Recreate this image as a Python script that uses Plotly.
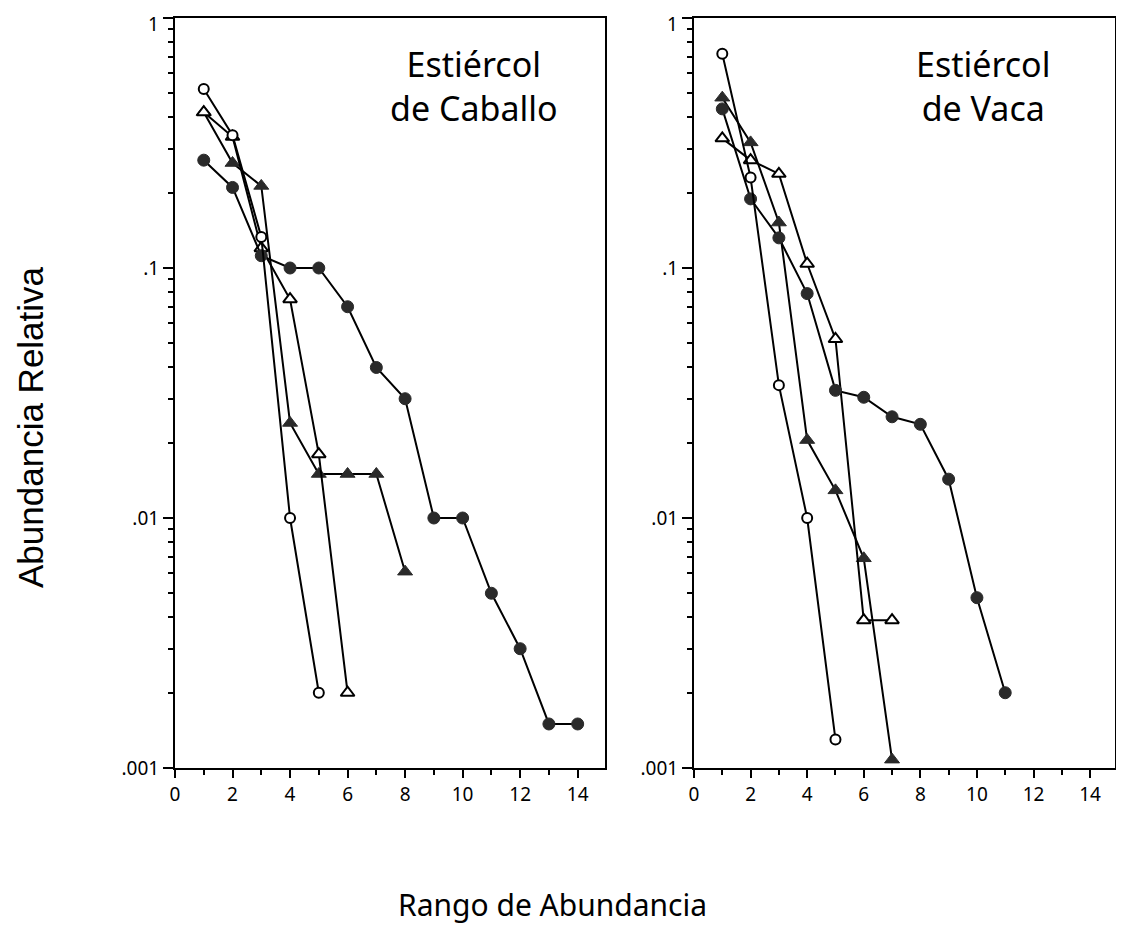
import plotly.graph_objects as go

# ---- data ----
left_fc_rank = [1, 2, 3, 4, 5, 6, 7, 8, 9, 10, 11, 12, 13, 14]
left_fc = [0.27, 0.21, 0.112, 0.10, 0.10, 0.070, 0.040, 0.030, 0.010, 0.010, 0.0050, 0.0030, 0.0015, 0.0015]
left_oc_rank = [1, 2, 3, 4, 5]
left_oc = [0.52, 0.34, 0.133, 0.010, 0.0020]
left_ot_rank = [1, 2, 3, 4, 5, 6]
left_ot = [0.42, 0.335, 0.12, 0.075, 0.018, 0.0020]
left_ft_rank = [1, 2, 3, 4, 5, 6, 7, 8]
left_ft = [0.42, 0.263, 0.213, 0.024, 0.015, 0.015, 0.015, 0.0061]

right_fc_rank = [1, 2, 3, 4, 5, 6, 7, 8, 9, 10, 11]
right_fc = [0.433, 0.189, 0.132, 0.079, 0.0324, 0.0304, 0.0254, 0.0237, 0.0143, 0.0048, 0.0020]
right_oc_rank = [1, 2, 3, 4, 5]
right_oc = [0.72, 0.23, 0.034, 0.010, 0.0013]
right_ot_rank = [1, 2, 3, 4, 5, 6, 7]
right_ot = [0.33, 0.27, 0.238, 0.104, 0.052, 0.0039, 0.0039]
right_ft_rank = [1, 2, 3, 4, 5, 6, 7]
right_ft = [0.48, 0.318, 0.152, 0.0205, 0.0129, 0.0069, 0.00108]

x_major = [0, 2, 4, 6, 8, 10, 12, 14]
y_major = [0.001, 0.01, 0.1, 1]
y_major_text = [".001", ".01", ".1", ""]   # the top "1" is placed below as its own label
y_top_text = "1"
y_minor = [m * 10 ** e for e in (-3, -2, -1) for m in range(2, 10)]

panel_titles = ["Estiércol<br>de Caballo", "Estiércol<br>de Vaca"]
x_title = "Rango de Abundancia"
y_title = "Abundancia Relativa"

DARK = "#2a2a2a"
FONT = "Noto Sans"

fig = go.Figure()

def add_series(xs, ys, kind, xa, ya):
    if kind == "fc":
        marker = dict(symbol="circle", size=12, color=DARK, line=dict(color=DARK, width=1))
    elif kind == "oc":
        marker = dict(symbol="circle", size=10, color="white", line=dict(color="black", width=2))
    elif kind == "ft":
        marker = dict(symbol="triangle-up", size=13, color=DARK, line=dict(color=DARK, width=1))
    else:
        marker = dict(symbol="triangle-up", size=12, color="white", line=dict(color="black", width=2))
    fig.add_trace(go.Scatter(x=xs, y=ys, mode="lines+markers", xaxis=xa, yaxis=ya,
                             line=dict(color="black", width=2), marker=marker,
                             showlegend=False, cliponaxis=False))

add_series(left_ft_rank, left_ft, "ft", "x", "y")
add_series(left_ot_rank, left_ot, "ot", "x", "y")
add_series(left_fc_rank, left_fc, "fc", "x", "y")
add_series(left_oc_rank, left_oc, "oc", "x", "y")

add_series(right_ft_rank, right_ft, "ft", "x2", "y2")
add_series(right_ot_rank, right_ot, "ot", "x2", "y2")
add_series(right_fc_rank, right_fc, "fc", "x2", "y2")
add_series(right_oc_rank, right_oc, "oc", "x2", "y2")

# page has an 8px body margin: figure occupies page pixels 8..1116 x 8..933
OFF = 8
W, H = 1124 - 2 * OFF, 941 - 2 * OFF

def px_x(p):
    return (p - OFF) / W

def px_y(p):
    return 1 - (p - OFF) / H

def xax(dom, anchor, xmax):
    return dict(domain=dom, anchor=anchor, range=[0, xmax], showgrid=False, zeroline=False,
                showline=True, linecolor="black", linewidth=2, mirror=True,
                tickmode="array", tickvals=x_major, ticks="outside", ticklen=8, tickwidth=2,
                tickcolor="black", automargin=False, ticklabeloverflow="allow",
                minor=dict(dtick=1, tick0=0, ticks="outside", ticklen=5, tickwidth=2, tickcolor="black"),
                tickfont=dict(family=FONT, size=19, color="black"))

def yax(anchor):
    return dict(domain=[px_y(768), px_y(18)], anchor=anchor, type="log", range=[-3, 0],
                showgrid=False, zeroline=False, showline=True, linecolor="black", linewidth=2,
                mirror=True, tickmode="array", tickvals=y_major, ticktext=y_major_text,
                ticks="outside", ticklen=10, tickwidth=2, tickcolor="black", automargin=False,
                ticklabeloverflow="allow",
                minor=dict(tickmode="array", tickvals=y_minor, ticks="outside", ticklen=5,
                           tickwidth=1.5, tickcolor="black"),
                tickfont=dict(family=FONT, size=19, color="black"))

LEFT_AX, RIGHT_AX = 175, 694

annotations = [
    dict(text=panel_titles[0], xref="paper", yref="paper", x=px_x(474), y=px_y(86),
         xanchor="center", yanchor="middle", showarrow=False,
         font=dict(family=FONT, size=34, color="black")),
    dict(text=panel_titles[1], xref="paper", yref="paper", x=px_x(983), y=px_y(86),
         xanchor="center", yanchor="middle", showarrow=False,
         font=dict(family=FONT, size=34, color="black")),
    dict(text=x_title, xref="paper", yref="paper", x=px_x(552), y=px_y(904),
         xanchor="center", yanchor="middle", showarrow=False,
         font=dict(family=FONT, size=30, color="black")),
    dict(text=y_title, xref="paper", yref="paper", x=px_x(30), y=px_y(427),
         xanchor="center", yanchor="middle", showarrow=False, textangle=-90,
         font=dict(family="Liberation Sans", size=35, color="black")),
]
for ax_px in (LEFT_AX, RIGHT_AX):
    annotations.append(dict(text=y_top_text, xref="paper", yref="paper",
                            x=px_x(ax_px - 14), y=px_y(9), xanchor="right", yanchor="top",
                            showarrow=False, font=dict(family=FONT, size=19, color="black")))

fig.update_layout(
    width=W, height=H, margin=dict(l=0, r=0, t=0, b=0),
    paper_bgcolor="white", plot_bgcolor="white",
    xaxis=xax([px_x(LEFT_AX), px_x(605)], "y", 14.95),
    yaxis=yax("x"),
    xaxis2=xax([px_x(RIGHT_AX), px_x(1115)], "y2", 14.88),
    yaxis2=yax("x2"),
    annotations=annotations,
)

fig.write_html("out.html")
